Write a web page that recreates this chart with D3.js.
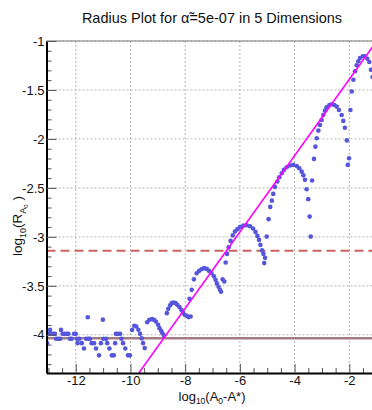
<!DOCTYPE html>
<html>
<head>
<meta charset="utf-8">
<script src="https://cdn.jsdelivr.net/npm/d3@7"></script>
<style>
  body { margin: 0; background: #fff; }
  svg { display: block; font-family: "Liberation Sans", Arial, sans-serif; }
</style>
</head>
<body>
<svg id="chart"></svg>
<script>
// chart values
const logDeltaA = [
  -13.05, -12.98, -12.94, -12.90, -12.82, -12.76, -12.72, -12.64, -12.57, -12.54,
  -12.48, -12.40, -12.33, -12.27, -12.21, -12.15, -12.06, -12.00, -11.96, -11.93,
  -11.87, -11.78, -11.70, -11.62, -11.56, -11.54, -11.48, -11.42, -11.33, -11.26,
  -11.15, -11.08, -11.01, -10.99, -10.89, -10.85, -10.77, -10.68, -10.61, -10.56,
  -10.53, -10.45, -10.38, -10.33, -10.27, -10.19, -10.09, -10.02,
  -9.94, -9.86, -9.79, -9.71, -9.65, -9.59, -9.54, -9.48,
  -9.39, -9.31, -9.21, -9.14, -9.07, -8.99, -8.94, -8.88, -8.83, -8.77,
  -8.67, -8.62, -8.55, -8.49, -8.43, -8.35, -8.29, -8.21, -8.14, -8.08,
  -8.02, -7.94, -7.88, -7.80,
  -7.84, -7.76, -7.68, -7.58, -7.49, -7.40, -7.31, -7.21, -7.13, -7.04,
  -6.95, -6.89, -6.84, -6.78, -6.73, -6.69, -6.63, -6.57,
  -6.52, -6.47, -6.41, -6.34, -6.26, -6.18, -6.09, -5.99, -5.87, -5.75,
  -5.63, -5.52, -5.43, -5.36, -5.30, -5.25, -5.19, -5.14, -5.08, -5.11, -5.02,
  -4.95, -4.89, -4.83, -4.78, -4.72, -4.63, -4.56, -4.47, -4.39, -4.29,
  -4.17, -4.05, -3.92, -3.83, -3.74, -3.68, -3.62, -3.56, -3.50, -3.45,
  -3.41, -3.36,
  -3.29, -3.24, -3.19, -3.13, -3.07, -3.01, -2.95, -2.89, -2.83, -2.73,
  -2.64, -2.55, -2.46, -2.38, -2.28, -2.22, -2.16, -2.09, -2.055, -2.01, -1.96,
  -1.91, -1.85, -1.79, -1.73, -1.67, -1.61, -1.51, -1.43, -1.34, -1.27,
  -1.21, -1.15
];
const logRadius = [
  -4.085, -3.99, -3.95, -3.99, -3.99, -3.99, -4.04, -4.04, -4.04, -3.95,
  -3.99, -3.99, -3.99, -3.99, -4.04, -4.04, -3.99, -3.99, -4.04, -4.085,
  -4.04, -4.085, -4.14, -4.04, -3.82, -4.04, -4.04, -4.085, -4.085, -4.14,
  -4.21, -4.085, -3.845, -4.04, -4.04, -4.085, -4.14, -4.21, -4.21, -4.085,
  -3.99, -3.99, -3.99, -4.04, -4.085, -4.14, -4.21, -4.21,
  -3.95, -3.908, -3.915, -3.949, -3.99, -4.036, -4.085, -4.136,
  -3.872, -3.847, -3.840, -3.847, -3.864, -3.898, -3.932, -3.959, -3.985, -4.01,
  -3.779, -3.735, -3.699, -3.677, -3.670, -3.677, -3.694, -3.717, -3.745, -3.772,
  -3.796, -3.806, -3.819, -3.813,
  -3.633, -3.541, -3.434, -3.372, -3.347, -3.330, -3.319, -3.327, -3.347, -3.372,
  -3.403, -3.439, -3.475, -3.510, -3.541, -3.561, -3.434, -3.456,
  -3.262, -3.174, -3.107, -3.041, -2.985, -2.946, -2.921, -2.898, -2.885, -2.881,
  -2.891, -2.915, -2.949, -2.990, -3.031, -3.082, -3.138, -3.174, -3.214, -3.268, -2.997,
  -2.819, -2.694, -2.630, -2.561, -2.490, -2.434, -2.391, -2.350, -2.316, -2.289,
  -2.272, -2.265, -2.276, -2.299, -2.334, -2.372, -2.418, -2.513, -2.615, -2.793,
  -2.997, -2.425,
  -2.204, -2.079, -1.993, -1.915, -1.857, -1.806, -1.755, -1.711, -1.677, -1.653,
  -1.646, -1.653, -1.670, -1.704, -1.755, -1.816, -1.886, -2.015, -2.265, -2.197, -1.704,
  -1.515, -1.395, -1.309, -1.248, -1.207, -1.173, -1.156, -1.156, -1.181, -1.214,
  -1.293, -1.367
];

const fitLineX = [-9.72, -1.0];
const fitLineY = [-4.40, -1.001];
const dashedLevel = -3.143;
const solidLevel = -4.034;

const xMajorTicks = [-12, -10, -8, -6, -4, -2];
const yMajorTicks = [-1, -1.5, -2, -2.5, -3, -3.5, -4];
const xDomain = [-13.07, -1.17];
const yDomain = [-4.39, -1];

const width = 372, height = 410;
const plot = { left: 46.5, right: 372, top: 41, bottom: 373 };

const svg = d3.select('#chart').attr('width', width).attr('height', height);

const x = d3.scaleLinear().domain(xDomain).range([plot.left, plot.right]);
const y = d3.scaleLinear().domain(yDomain).range([plot.bottom, plot.top]);

// plain hyphen labels like the original ("-1", "-1.5")
const tickLabel = (d) => String(d);

// title
svg.append('text')
  .attr('x', 212)
  .attr('y', 23)
  .attr('text-anchor', 'middle')
  .attr('font-size', 14.5)
  .attr('fill', '#111')
  .text('Radius Plot for \u03B1\u0303=5e-07 in 5 Dimensions');

// grid
const grid = svg.append('g').attr('class', 'grid');
grid.selectAll('line.gx')
  .data(xMajorTicks)
  .join('line')
  .attr('class', 'gx')
  .attr('x1', (d) => x(d)).attr('x2', (d) => x(d))
  .attr('y1', plot.top).attr('y2', plot.bottom);
grid.selectAll('line.gy')
  .data(yMajorTicks)
  .join('line')
  .attr('class', 'gy')
  .attr('x1', plot.left).attr('x2', plot.right)
  .attr('y1', (d) => y(d)).attr('y2', (d) => y(d));
grid.selectAll('line')
  .attr('stroke', '#b4b4b4')
  .attr('stroke-width', 1)
  .attr('stroke-dasharray', '2,2');

svg.append('clipPath').attr('id', 'plotClip')
  .append('rect')
  .attr('x', plot.left).attr('y', plot.top)
  .attr('width', plot.right - plot.left).attr('height', plot.bottom - plot.top);

const inner = svg.append('g').attr('clip-path', 'url(#plotClip)');

// reference levels
inner.append('line')
  .attr('x1', plot.left).attr('x2', plot.right)
  .attr('y1', y(solidLevel)).attr('y2', y(solidLevel))
  .attr('stroke', '#a37b82')
  .attr('stroke-width', 2.5);
inner.append('line')
  .attr('x1', plot.left).attr('x2', plot.right)
  .attr('y1', y(dashedLevel)).attr('y2', y(dashedLevel))
  .attr('stroke', '#cc6262')
  .attr('stroke-width', 2)
  .attr('stroke-dasharray', '9,5');

// points
const points = logDeltaA.map((d, i) => ({ x: d, y: logRadius[i] }));
inner.append('g')
  .selectAll('circle')
  .data(points)
  .join('circle')
  .attr('cx', (d) => x(d.x))
  .attr('cy', (d) => y(d.y))
  .attr('r', 2.3)
  .attr('fill', '#5656dc');

// fit line
inner.append('line')
  .attr('x1', x(fitLineX[0])).attr('y1', y(fitLineY[0]))
  .attr('x2', x(fitLineX[1])).attr('y2', y(fitLineY[1]))
  .attr('stroke', '#ff00ff')
  .attr('stroke-width', 1.6);

// top frame
svg.append('line')
  .attr('x1', plot.left).attr('x2', plot.right)
  .attr('y1', plot.top).attr('y2', plot.top)
  .attr('stroke', '#7a7a7a')
  .attr('stroke-width', 1);

// axes
const xMinor = d3.range(-13, -1.1, 0.5).filter((v) => !xMajorTicks.includes(v));
const yMinor = d3.range(-4.3, -1.0, 0.1).map((v) => Math.round(v * 10) / 10)
  .filter((v) => !yMajorTicks.includes(v));

const xAxis = svg.append('g').attr('transform', `translate(0,${plot.bottom})`);
xAxis.append('g')
  .call(d3.axisBottom(x).tickValues(xMinor).tickSize(-5).tickSizeOuter(0).tickFormat(''))
  .call((g) => g.select('.domain').remove());
xAxis.append('g')
  .call(d3.axisBottom(x).tickValues(xMajorTicks).tickSize(-9).tickSizeOuter(0)
    .tickPadding(3).tickFormat(tickLabel))
  .call((g) => g.select('.domain').attr('stroke', '#000').attr('stroke-width', 2));

const yAxis = svg.append('g').attr('transform', `translate(${plot.left},0)`);
yAxis.append('g')
  .call(d3.axisLeft(y).tickValues(yMinor).tickSize(-5).tickSizeOuter(0).tickFormat(''))
  .call((g) => g.select('.domain').remove());
yAxis.append('g')
  .call(d3.axisLeft(y).tickValues(yMajorTicks).tickSize(-10).tickSizeOuter(0)
    .tickPadding(2).tickFormat(tickLabel))
  .call((g) => g.select('.domain').attr('stroke', '#000').attr('stroke-width', 2));

svg.selectAll('.tick line').attr('stroke', '#555');
svg.selectAll('.tick text')
  .attr('font-family', '"Liberation Sans", Arial, sans-serif')
  .attr('font-size', 13)
  .attr('fill', '#111');

// axis titles
const xTitle = svg.append('text')
  .attr('x', 212)
  .attr('y', 400.5)
  .attr('text-anchor', 'middle')
  .attr('font-size', 13)
  .attr('fill', '#111');
xTitle.append('tspan').text('log');
xTitle.append('tspan').attr('font-size', 8.5).attr('dy', 3.5).text('10');
xTitle.append('tspan').attr('dy', -3.5).text('(A');
xTitle.append('tspan').attr('font-size', 8.5).attr('dy', 3.5).text('0');
xTitle.append('tspan').attr('dy', -3.5).text('-A*)');

const yTitle = svg.append('text')
  .attr('transform', 'translate(22,226) rotate(-90)')
  .attr('text-anchor', 'middle')
  .attr('font-size', 13.5)
  .attr('fill', '#111');
yTitle.append('tspan').text('log');
yTitle.append('tspan').attr('font-size', 9).attr('dy', 4).text('10');
yTitle.append('tspan').attr('dy', -4).text('(R');
yTitle.append('tspan').attr('font-size', 9).attr('dy', 4).text('A');
yTitle.append('tspan').attr('font-size', 6).attr('dy', 2).text('0');
yTitle.append('tspan').attr('dy', -6).text(' )');
</script>
</body>
</html>
